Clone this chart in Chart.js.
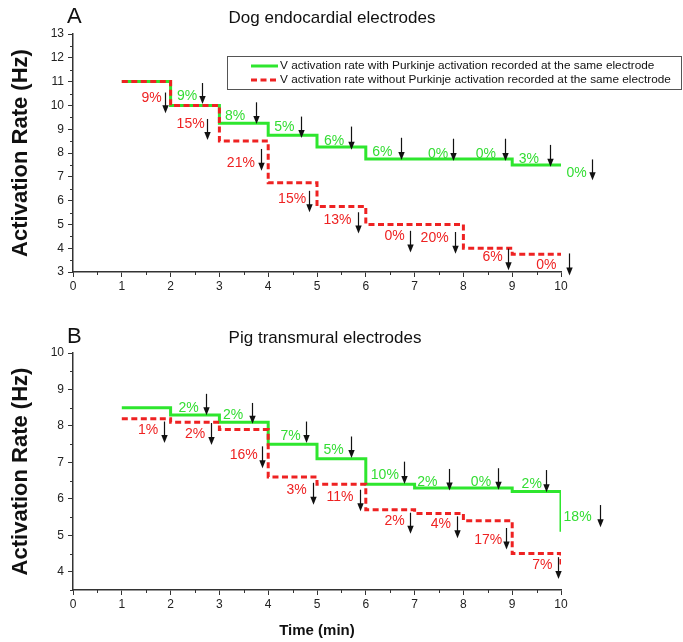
<!DOCTYPE html>
<html><head><meta charset="utf-8">
<script src="https://cdn.jsdelivr.net/npm/chart.js@4/dist/chart.umd.min.js"></script>
<style>
body{margin:0;background:#fff;}
.wrap{position:absolute;left:0;width:683px;}
canvas{display:block;}
</style>
</head><body>
<div class="wrap" style="top:0;height:300px"><canvas id="cA" width="683" height="300"></canvas></div>
<div class="wrap" style="top:300px;height:342px"><canvas id="cB" width="683" height="342"></canvas></div>
<script>
// ---------- DATA ----------
const minutes = [1, 2, 3, 4, 5, 6, 7, 8, 9, 10];
const seriesLabels = [
  'V activation rate with Purkinje activation recorded at the same electrode',
  'V activation rate without Purkinje activation recorded at the same electrode'
];
// Panel A: dog endocardial (rate during each minute, last value repeats to close the step)
const dogWith    = [11, 10, 9.25, 8.75, 8.25, 7.75, 7.75, 7.75, 7.5, 7.5];
const dogWithout = [11, 10, 8.5, 6.75, 5.75, 5, 5, 4, 3.75, 3.75];
// Panel B: pig transmural
const pigWith    = [8.5, 8.3, 8.1, 7.5, 7.1, 6.4, 6.3, 6.3, 6.2, 6.2];
const pigWithEnd = 5.1;
const pigWithout = [8.2, 8.1, 7.9, 6.6, 6.4, 5.7, 5.6, 5.4, 4.5, 4.5];
const pigWithoutEnd = 4.2;

// Percentage annotations (text, label x/y, arrow x, arrow top, arrow tip) in data units
const dogWithPct   = ['9%','8%','5%','6%','6%','0%','0%','3%','0%'];
const dogWithLblX  = [2.34,3.32,4.33,5.35,6.34,7.48,8.46,9.34,10.32];
const dogWithLblY  = [10.37,9.53,9.07,8.48,8.05,7.96,7.96,7.73,7.16];
const dogWithArrX  = [2.64,3.74,4.68,5.70,6.72,7.79,8.85,9.78,10.63];
const dogWithArrT  = [10.94,10.13,9.53,9.11,8.64,8.60,8.60,8.34,7.73];
const dogWithArrB  = [10.06,9.22,8.63,8.14,7.71,7.66,7.66,7.42,6.86];

const dogWoPct   = ['9%','15%','21%','15%','13%','0%','20%','6%','0%'];
const dogWoLblX  = [1.61,2.41,3.44,4.49,5.42,6.59,7.41,8.60,9.70];
const dogWoLblY  = [10.30,9.21,7.59,6.06,5.18,4.50,4.41,3.63,3.28];
const dogWoArrX  = [1.88,2.75,3.85,4.84,5.84,6.90,7.82,8.91,10.17];
const dogWoArrT  = [10.54,9.43,8.17,6.41,5.51,4.73,4.68,3.98,3.78];
const dogWoArrB  = [9.67,8.55,7.25,5.51,4.62,3.82,3.77,3.07,2.85];

const pigWithPct   = ['2%','2%','7%','5%','10%','2%','0%','2%','18%'];
const pigWithLblX  = [2.37,3.28,4.46,5.34,6.39,7.26,8.36,9.40,10.34];
const pigWithLblY  = [8.49,8.29,7.71,7.33,6.66,6.46,6.46,6.41,5.51];
const pigWithArrX  = [2.73,3.66,4.78,5.70,6.79,7.70,8.71,9.70,10.79];
const pigWithArrT  = [8.88,8.63,8.12,7.71,7.02,6.82,6.84,6.79,5.83];
const pigWithArrB  = [8.29,8.06,7.53,7.12,6.41,6.23,6.25,6.18,5.22];

const pigWoPct   = ['1%','2%','16%','3%','11%','2%','4%','17%','7%'];
const pigWoLblX  = [1.54,2.50,3.50,4.58,5.47,6.59,7.54,8.51,9.62];
const pigWoLblY  = [7.89,7.78,7.21,6.23,6.04,5.38,5.31,4.87,4.17];
const pigWoArrX  = [1.86,2.82,3.88,4.91,5.88,6.90,7.86,8.87,9.94];
const pigWoArrT  = [8.12,8.08,7.44,6.44,6.25,5.62,5.52,5.20,4.40];
const pigWoArrB  = [7.53,7.48,6.84,5.84,5.66,5.04,4.92,4.61,3.80];

// ---------- STYLE ----------
const GREEN = '#2ee62e', GREEN_TXT = '#33dd33', RED = '#ee2222';
const FONT = "'Liberation Sans', Arial, sans-serif";
const AXIS = '#333';

function stepPoints(vals, end) {
  const pts = minutes.map((m, i) => ({x: m, y: vals[i]}));
  if (end !== undefined) pts.push({x: minutes[minutes.length - 1], y: end});
  return pts;
}
function annos(color, txt, lx, ly, ax, at, ab) {
  return txt.map((t, i) => ({color, text: t, lx: lx[i], ly: ly[i], ax: ax[i], at: at[i], ab: ab[i]}));
}

const decor = {
  id: 'decor',
  afterDraw(chart, args, o) {
    const ctx = chart.ctx, xs = chart.scales.x, ys = chart.scales.y;
    ctx.save();
    // minor ticks
    ctx.strokeStyle = AXIS; ctx.lineWidth = 1;
    xs.ticks.forEach(t => {
      if (!Number.isInteger(t.value)) {
        const px = Math.round(xs.getPixelForValue(t.value)) + 0.5;
        ctx.beginPath(); ctx.moveTo(px, ys.bottom); ctx.lineTo(px, ys.bottom + 3); ctx.stroke();
      }
    });
    ys.ticks.forEach(t => {
      if (!Number.isInteger(t.value)) {
        const py = Math.round(ys.getPixelForValue(t.value)) + 0.5;
        ctx.beginPath(); ctx.moveTo(xs.left, py); ctx.lineTo(xs.left - 3, py); ctx.stroke();
      }
    });
    // panel letter & title
    ctx.fillStyle = '#111';
    ctx.textBaseline = 'alphabetic'; ctx.textAlign = 'left';
    ctx.font = `22px ${FONT}`;
    ctx.fillText(o.letter, o.letterX, o.letterY);
    ctx.textAlign = 'center';
    ctx.font = `17px ${FONT}`;
    ctx.fillText(o.title, o.titleX, o.titleY);
    // annotations
    ctx.font = `14px ${FONT}`;
    ctx.textBaseline = 'middle';
    o.annos.forEach(a => {
      ctx.fillStyle = a.color;
      ctx.fillText(a.text, xs.getPixelForValue(a.lx), ys.getPixelForValue(a.ly));
      const x = Math.round(xs.getPixelForValue(a.ax)) + 0.5;
      const y0 = ys.getPixelForValue(a.at), y1 = ys.getPixelForValue(a.ab);
      ctx.strokeStyle = '#111'; ctx.lineWidth = 1.2;
      ctx.beginPath(); ctx.moveTo(x, y0); ctx.lineTo(x, y1 - 6); ctx.stroke();
      ctx.fillStyle = '#111';
      ctx.beginPath(); ctx.moveTo(x - 3.2, y1 - 8); ctx.lineTo(x + 3.2, y1 - 8); ctx.lineTo(x, y1); ctx.closePath(); ctx.fill();
    });
    // legend
    if (o.legend) {
      const L = o.legend;
      ctx.strokeStyle = '#555'; ctx.lineWidth = 1;
      ctx.strokeRect(L.x + 0.5, L.y + 0.5, L.w, L.h);
      ctx.font = `11.8px ${FONT}`; ctx.textAlign = 'left'; ctx.textBaseline = 'middle';
      chart.data.datasets.slice().sort((a, b) => a.legendIndex - b.legendIndex).forEach((ds, i) => {
        const yy = L.y + L.rowY[i];
        ctx.strokeStyle = ds.borderColor; ctx.lineWidth = 3;
        ctx.setLineDash(ds.borderDash || []);
        ctx.beginPath(); ctx.moveTo(L.x + 24, yy); ctx.lineTo(L.x + 51, yy); ctx.stroke();
        ctx.setLineDash([]);
        ctx.fillStyle = '#111';
        ctx.fillText(ds.label, L.x + 53, yy);
      });
    }
    ctx.restore();
  }
};

function makeChart(id, cfg) {
  const tickFont = {family: FONT, size: 12};
  return new Chart(document.getElementById(id), {
    type: 'line',
    data: {datasets: [
      {label: seriesLabels[0], data: cfg.withPts, borderColor: GREEN, borderWidth: 3, stepped: 'before',
       pointRadius: 0, fill: false, order: 2, legendIndex: 0, borderCapStyle: 'butt'},
      {label: seriesLabels[1], data: cfg.woPts, borderColor: RED, borderWidth: 3, stepped: 'before',
       borderDash: [6, 3.5], pointRadius: 0, fill: false, order: 1, legendIndex: 1, borderCapStyle: 'butt'}
    ]},
    options: {
      responsive: false, animation: false, devicePixelRatio: 1,
      layout: {padding: {left: 0, right: 122, top: cfg.padTop, bottom: 0}},
      plugins: {legend: {display: false}, tooltip: {enabled: false},
        decor: cfg.decor},
      scales: {
        x: {type: 'linear', min: 0, max: 10,
          ticks: {stepSize: 0.5, autoSkip: false, maxRotation: 0, color: '#222', font: tickFont, padding: 2,
            callback: v => Number.isInteger(v) ? String(v) : ''},
          grid: {drawOnChartArea: false, tickLength: 5, tickWidth: 1,
            tickColor: c => (c.tick && Number.isInteger(c.tick.value)) ? AXIS : 'rgba(0,0,0,0)'},
          border: {color: AXIS, width: 1.5},
          title: cfg.xTitle ? {display: true, text: 'Time (min)', color: '#111',
            font: {family: FONT, size: 15, weight: 'bold'}, padding: {top: 0, bottom: 2}} : {display: false},
          afterFit: s => { s.height = cfg.xHeight; }
        },
        y: {type: 'linear', min: cfg.yMin, max: cfg.yMax,
          ticks: {stepSize: 0.5, autoSkip: false, color: '#222', font: tickFont, padding: 4,
            callback: v => Number.isInteger(v) ? String(v) : ''},
          grid: {drawOnChartArea: false, tickLength: 5, tickWidth: 1,
            tickColor: c => (c.tick && Number.isInteger(c.tick.value)) ? AXIS : 'rgba(0,0,0,0)'},
          border: {color: AXIS, width: 1.5},
          title: {display: true, text: 'Activation Rate (Hz)', color: '#111',
            font: {family: FONT, size: 22, weight: 'bold'}, padding: {top: 8, bottom: 0}},
          afterFit: s => { s.width = 73; }
        }
      }
    },
    plugins: [decor]
  });
}

makeChart('cA', {
  withPts: stepPoints(dogWith), woPts: stepPoints(dogWithout),
  padTop: 34, xHeight: 28, yMin: 3, yMax: 13, xTitle: false,
  decor: {letter: 'A', letterX: 67, letterY: 23, title: 'Dog endocardial electrodes', titleX: 332, titleY: 23,
    annos: annos(GREEN_TXT, dogWithPct, dogWithLblX, dogWithLblY, dogWithArrX, dogWithArrT, dogWithArrB)
      .concat(annos(RED, dogWoPct, dogWoLblX, dogWoLblY, dogWoArrX, dogWoArrT, dogWoArrB)),
    legend: {x: 227, y: 56, w: 454, h: 33, rowY: [10, 24]}}
});
makeChart('cB', {
  withPts: stepPoints(pigWith, pigWithEnd), woPts: stepPoints(pigWithout, pigWithoutEnd),
  padTop: 53, xHeight: 52, yMin: 3.5, yMax: 10, xTitle: true,
  decor: {letter: 'B', letterX: 67, letterY: 43, title: 'Pig transmural electrodes', titleX: 325, titleY: 43,
    annos: annos(GREEN_TXT, pigWithPct, pigWithLblX, pigWithLblY, pigWithArrX, pigWithArrT, pigWithArrB)
      .concat(annos(RED, pigWoPct, pigWoLblX, pigWoLblY, pigWoArrX, pigWoArrT, pigWoArrB)),
    legend: null}
});
</script>
</body></html>
